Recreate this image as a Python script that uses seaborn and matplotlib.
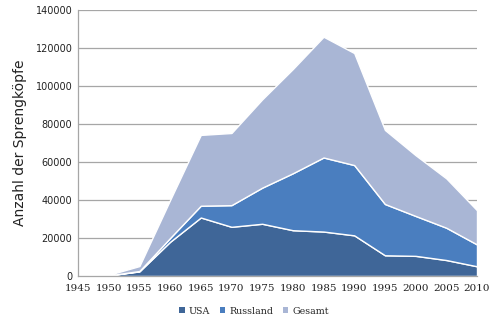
import numpy as np
import matplotlib
matplotlib.use("Agg")
import matplotlib.pyplot as plt
import seaborn as sns

years = [1945, 1950, 1955, 1960, 1965, 1970, 1975, 1980, 1985, 1990, 1995, 2000, 2005, 2010]
usa = [2, 299, 2422, 18000, 30800, 25900, 27500, 24100, 23400, 21400, 10900, 10600, 8400, 5100]
russland = [0, 5, 200, 2000, 6200, 11400, 19000, 30000, 39000, 37000, 27000, 21000, 17000, 11500]
gesamt = [2, 304, 2600, 20000, 37300, 38000, 46500, 54900, 63600, 59000, 39000, 32000, 26000, 18000]
series_names = ["USA", "Russland", "Gesamt"]
colors = ["#3F6698", "#4A7EBF", "#A9B6D5"]
y_ticks = [0, 20000, 40000, 60000, 80000, 100000, 120000, 140000]

sns.set_style("white")
plt.rcParams["font.family"] = ["DejaVu Sans"]

fig = plt.figure(figsize=(5.0, 3.27), dpi=100)
ax = fig.add_axes([0.156, 0.156, 0.798, 0.813])

polys = ax.stackplot(years, usa, russland, gesamt, colors=colors,
                     labels=series_names, edgecolor="white", linewidth=1.0,
                     zorder=2)

ax.set_xlim(1945, 2010)
ax.set_ylim(0, 140000)
ax.set_yticks(y_ticks)
ax.set_yticklabels([str(v) for v in y_ticks], fontsize=7, color="#222222")
ax.set_xticks(years)
ax.set_xticklabels([str(y) for y in years], fontsize=7.5, color="#222222",
                   family="DejaVu Serif")
ax.tick_params(axis="both", length=0, pad=4)
ax.tick_params(axis="x", pad=6)

ax.yaxis.grid(True, color="#A6A6A6", linewidth=0.9, zorder=0)
ax.set_axisbelow(True)
for side in ["top", "right"]:
    ax.spines[side].set_visible(False)
for side in ["left", "bottom"]:
    ax.spines[side].set_color("#A6A6A6")
    ax.spines[side].set_linewidth(0.9)

ax.set_ylabel("Anzahl der Sprengköpfe", fontsize=10, color="#222222", labelpad=6)

leg = fig.legend(handles=polys, labels=series_names, loc="center",
                 bbox_to_anchor=(0.508, 0.048), ncol=3, frameon=False,
                 prop={"family": "DejaVu Serif", "size": 6.8},
                 handlelength=0.6, handleheight=0.6, handletextpad=0.4,
                 columnspacing=1.0)
for h in leg.legend_handles:
    h.set_edgecolor("none")

fig.savefig("out.png", dpi=100, facecolor="white")
